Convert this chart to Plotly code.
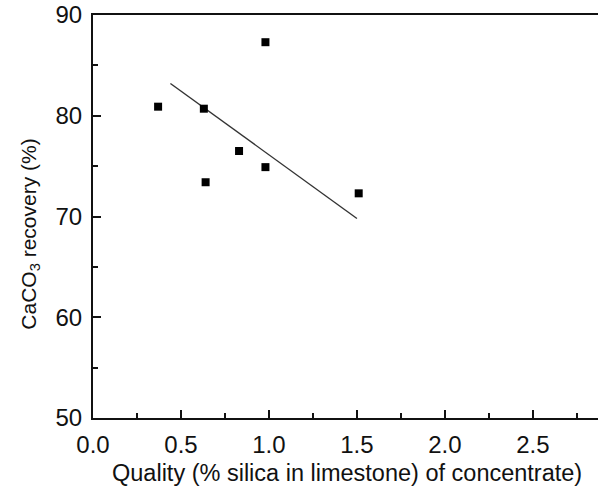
import plotly.graph_objects as go

# Data
silica = [0.37, 0.63, 0.64, 0.83, 0.98, 0.98, 1.51]
recovery = [80.9, 80.7, 73.4, 76.5, 87.3, 74.9, 72.3]
fit_x = [0.44, 1.50]
fit_y = [83.2, 69.8]
x_ticks = [0.0, 0.5, 1.0, 1.5, 2.0, 2.5]
x_labels = ["0.0", "0.5", "1.0", "1.5", "2.0", "2.5"]
y_ticks = [50, 60, 70, 80, 90]
x_title = "Quality (% silica in limestone) of concentrate)"
y_title = "CaCO<sub>3</sub> recovery (%)"

FONT = "Liberation Sans, Arial, Helvetica, sans-serif"

fig = go.Figure()
fig.add_trace(go.Scatter(x=fit_x, y=fit_y, mode="lines",
                         line=dict(color="#333333", width=1.4), showlegend=False))
fig.add_trace(go.Scatter(x=silica, y=recovery, mode="markers",
                         marker=dict(symbol="square", size=8, color="black"),
                         showlegend=False))

fig.update_layout(
    width=609, height=501,
    margin=dict(l=93, r=11, t=15, b=83, autoexpand=False),
    paper_bgcolor="white", plot_bgcolor="white",
    font=dict(family=FONT, color="#111111", size=22),
    xaxis=dict(range=[0, 2.87], tickmode="array", tickvals=x_ticks, ticktext=x_labels,
               ticks="inside", ticklen=8, tickwidth=1.5, tickcolor="#111",
               minor=dict(ticks="inside", ticklen=5, tickwidth=1.5, tickcolor="#111", dtick=0.25),
               showline=True, linecolor="#111", linewidth=2, mirror=True,
               showgrid=False, zeroline=False, automargin=False,
               tickfont=dict(size=24), ticklabelstandoff=4, ticklabeloverflow="allow"),
    yaxis=dict(range=[50, 90], tickmode="array", tickvals=y_ticks,
               ticks="inside", ticklen=8, tickwidth=1.5, tickcolor="#111",
               minor=dict(ticks="inside", ticklen=5, tickwidth=1.5, tickcolor="#111", dtick=5),
               showline=True, linecolor="#111", linewidth=2, mirror=False,
               showgrid=False, zeroline=False, automargin=False,
               tickfont=dict(size=24), ticklabelstandoff=4, ticklabeloverflow="allow"),
    annotations=[
        dict(text=x_title, xref="paper", yref="paper", x=0.503, y=-0.137,
             xanchor="center", yanchor="middle", showarrow=False,
             font=dict(size=23.5, family=FONT, color="#111")),
        dict(text=y_title, xref="paper", yref="paper", x=-0.125, y=0.457,
             xanchor="center", yanchor="middle", textangle=-90, showarrow=False,
             font=dict(size=21, family=FONT, color="#111")),
    ],
)

fig.write_html("out.html", config={"displayModeBar": False},
               post_script="document.body.style.margin='0px';")
